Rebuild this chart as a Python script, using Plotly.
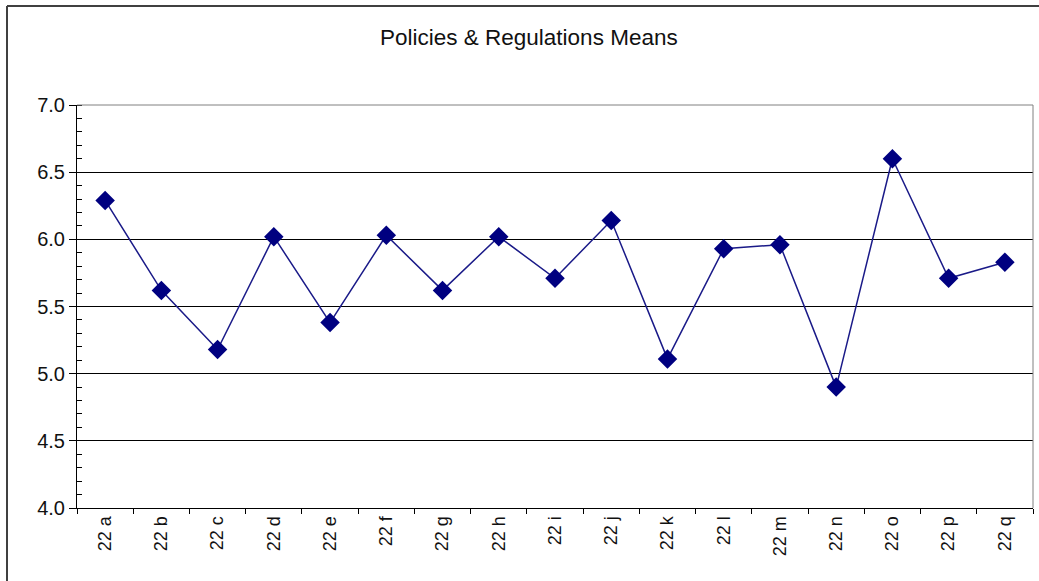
import plotly.graph_objects as go

categories = ["22 a", "22 b", "22 c", "22 d", "22 e", "22 f", "22 g", "22 h", "22 i",
              "22 j", "22 k", "22 l", "22 m", "22 n", "22 o", "22 p", "22 q"]
means = [6.29, 5.62, 5.18, 6.02, 5.38, 6.03, 5.62, 6.02, 5.71,
         6.14, 5.11, 5.93, 5.96, 4.90, 6.60, 5.71, 5.83]
title_text = "Policies & Regulations Means"

FONT = "Liberation Sans, Arial, sans-serif"

fig = go.Figure()
fig.add_trace(go.Scatter(
    x=categories, y=means, mode="lines+markers",
    line=dict(color="#1a1a88", width=1.5),
    marker=dict(symbol="diamond", size=15, color="#000080",
                line=dict(color="#000080", width=0)),
    showlegend=False,
))

fig.update_layout(
    width=1039, height=581,
    margin=dict(l=77, r=6, t=105, b=73),
    paper_bgcolor="white", plot_bgcolor="white",
    font=dict(family=FONT, color="#111111"),
    title=dict(text=title_text, font=dict(size=22.5, family=FONT, color="#111111"),
               x=0.509, xref="container", xanchor="center",
               y=1 - 37 / 581, yref="container", yanchor="middle"),
    shapes=[
        # plot-area top and right borders (gray)
        dict(type="line", xref="paper", yref="paper", x0=0, x1=1, y0=1, y1=1,
             line=dict(color="#808080", width=1), layer="above"),
        dict(type="line", xref="paper", yref="paper", x0=1, x1=1, y0=0, y1=1,
             line=dict(color="#808080", width=1), layer="above"),
        # outer chart border (left and top)
        dict(type="line", xref="paper", yref="paper",
             x0=(7 - 77) / 956, x1=(7 - 77) / 956, y0=-0.5, y1=(508 - 6) / 403,
             line=dict(color="#404040", width=2), layer="above"),
        dict(type="line", xref="paper", yref="paper",
             x0=(7 - 77) / 956, x1=1.2, y0=(508 - 6) / 403, y1=(508 - 6) / 403,
             line=dict(color="#404040", width=2), layer="above"),
    ],
)

fig.update_xaxes(
    type="category", tickson="boundaries",
    ticks="outside", ticklen=5, tickcolor="black", tickwidth=1,
    showline=True, linecolor="black", linewidth=1,
    showgrid=False, zeroline=False,
    tickangle=-90, tickfont=dict(size=18, family=FONT, color="#111111"),
    range=[-0.5, len(categories) - 0.5],
)

fig.update_yaxes(
    range=[4.0, 7.0], dtick=0.5, tick0=4.0, tickformat=".1f",
    ticks="outside", ticklen=7, tickcolor="black", tickwidth=1,
    showline=True, linecolor="black", linewidth=1,
    showgrid=True, gridcolor="black", gridwidth=1,
    zeroline=False,
    minor=dict(ticks="inside", dtick=0.1, ticklen=5, tickcolor="black", showgrid=False),
    tickfont=dict(size=20, family=FONT, color="#111111"),
)

fig.write_html(
    "out.html",
    config={"displayModeBar": False},
    post_script="document.body.style.margin='0';document.body.style.overflow='hidden';",
)
